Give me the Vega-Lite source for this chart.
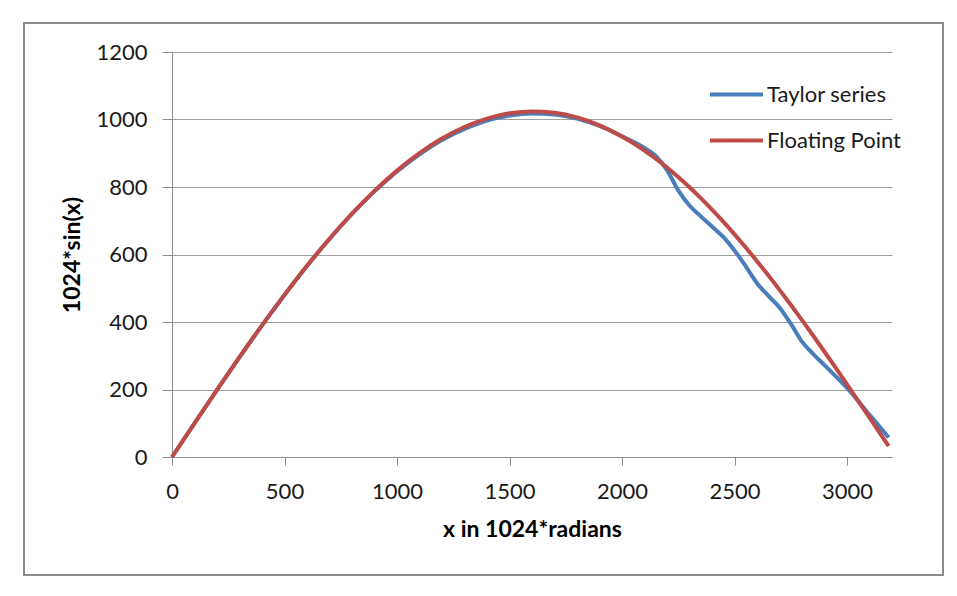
{
  "$schema": "https://vega.github.io/schema/vega-lite/v6.json",
  "width": 919,
  "height": 552,
  "autosize": {"type": "none"},
  "padding": {"left": 24, "top": 23, "right": 14, "bottom": 21},
  "background": "white",
  "config": {
    "view": {"stroke": "#8c8c8c", "strokeWidth": 2},
    "font": "Lato"
  },
  "data": {
    "values": [
      {"x": 0, "Taylor series": 0, "Floating Point": 0},
      {"x": 100, "Taylor series": 100, "Floating Point": 99.8},
      {"x": 200, "Taylor series": 199, "Floating Point": 198.7},
      {"x": 300, "Taylor series": 296, "Floating Point": 295.7},
      {"x": 400, "Taylor series": 390, "Floating Point": 389.9},
      {"x": 500, "Taylor series": 480, "Floating Point": 480.3},
      {"x": 600, "Taylor series": 566, "Floating Point": 566.3},
      {"x": 700, "Taylor series": 646, "Floating Point": 646.8},
      {"x": 800, "Taylor series": 720, "Floating Point": 721.0},
      {"x": 900, "Taylor series": 787, "Floating Point": 788.5},
      {"x": 1000, "Taylor series": 846, "Floating Point": 848.6},
      {"x": 1100, "Taylor series": 897, "Floating Point": 900.4},
      {"x": 1200, "Taylor series": 939, "Floating Point": 943.5},
      {"x": 1300, "Taylor series": 972, "Floating Point": 977.8},
      {"x": 1400, "Taylor series": 997, "Floating Point": 1002.8},
      {"x": 1500, "Taylor series": 1012, "Floating Point": 1018.3},
      {"x": 1600, "Taylor series": 1018, "Floating Point": 1024.0},
      {"x": 1700, "Taylor series": 1015, "Floating Point": 1019.9},
      {"x": 1800, "Taylor series": 1003, "Floating Point": 1006.1},
      {"x": 1900, "Taylor series": 981, "Floating Point": 982.8},
      {"x": 2000, "Taylor series": 950, "Floating Point": 949.9},
      {"x": 2100, "Taylor series": 916, "Floating Point": 908.2},
      {"x": 2150, "Taylor series": 892, "Floating Point": 884.1},
      {"x": 2200, "Taylor series": 850, "Floating Point": 858.0},
      {"x": 2250, "Taylor series": 790, "Floating Point": 829.4},
      {"x": 2300, "Taylor series": 745, "Floating Point": 799.1},
      {"x": 2350, "Taylor series": 713, "Floating Point": 767.0},
      {"x": 2400, "Taylor series": 683, "Floating Point": 733.1},
      {"x": 2450, "Taylor series": 652, "Floating Point": 697.2},
      {"x": 2500, "Taylor series": 612, "Floating Point": 659.8},
      {"x": 2550, "Taylor series": 565, "Floating Point": 620.8},
      {"x": 2600, "Taylor series": 515, "Floating Point": 580.3},
      {"x": 2650, "Taylor series": 478, "Floating Point": 538.6},
      {"x": 2700, "Taylor series": 443, "Floating Point": 495.3},
      {"x": 2750, "Taylor series": 395, "Floating Point": 450.9},
      {"x": 2800, "Taylor series": 342, "Floating Point": 405.5},
      {"x": 2850, "Taylor series": 305, "Floating Point": 359.2},
      {"x": 2900, "Taylor series": 272, "Floating Point": 311.9},
      {"x": 2950, "Taylor series": 239, "Floating Point": 264.0},
      {"x": 3000, "Taylor series": 205, "Floating Point": 215.4},
      {"x": 3100, "Taylor series": 125, "Floating Point": 116.7},
      {"x": 3185, "Taylor series": 58, "Floating Point": 32.0}
    ]
  },
  "transform": [
    {"fold": ["Taylor series", "Floating Point"], "as": ["series", "value"]}
  ],
  "mark": {"type": "line", "interpolate": "monotone", "strokeWidth": 4},
  "encoding": {
    "x": {
      "field": "x",
      "type": "quantitative",
      "scale": {"domain": [0, 3200], "range": [148, 868], "nice": false, "zero": false},
      "axis": {
        "title": "x in 1024*radians",
        "titleFont": "Lato",
        "titleFontSize": 23,
        "titleFontWeight": "bold",
        "titleColor": "#000000",
        "titlePadding": 16,
        "values": [0, 500, 1000, 1500, 2000, 2500, 3000],
        "format": "d",
        "offset": -118,
        "grid": false,
        "labelFont": "Lato",
        "labelFontSize": 22,
        "labelColor": "#1a1a1a",
        "labelPadding": 16,
        "labelFlush": false,
        "labelOverlap": false,
        "tickSize": 8,
        "tickColor": "#8c8c8c",
        "domainColor": "#8c8c8c"
      }
    },
    "y": {
      "field": "value",
      "type": "quantitative",
      "scale": {"domain": [0, 1200], "range": [434, 29], "nice": false, "zero": false},
      "axis": {
        "title": "1024*sin(x)",
        "titleFont": "Lato",
        "titleFontSize": 23,
        "titleFontWeight": "bold",
        "titleColor": "#000000",
        "titlePadding": 11,
        "values": [0, 200, 400, 600, 800, 1000, 1200],
        "format": "d",
        "offset": -148,
        "grid": true,
        "gridColor": "#a0a0a0",
        "labelFont": "Lato",
        "labelFontSize": 22,
        "labelColor": "#1a1a1a",
        "labelPadding": 15,
        "labelFlush": false,
        "labelOverlap": false,
        "tickSize": 10,
        "tickColor": "#8c8c8c",
        "domainColor": "#8c8c8c"
      }
    },
    "color": {
      "field": "series",
      "type": "nominal",
      "sort": ["Taylor series", "Floating Point"],
      "scale": {"domain": ["Taylor series", "Floating Point"], "range": ["#4A7EBB", "#BE4B48"]},
      "legend": {
        "title": null,
        "orient": "none",
        "legendX": 697,
        "legendY": 56,
        "padding": 0,
        "symbolType": "M-2,0H2",
        "symbolSize": 702,
        "symbolStrokeWidth": 4,
        "labelFont": "Lato",
        "labelFontSize": 22,
        "labelColor": "#1a1a1a",
        "labelOffset": 15,
        "rowPadding": 19
      }
    }
  }
}
